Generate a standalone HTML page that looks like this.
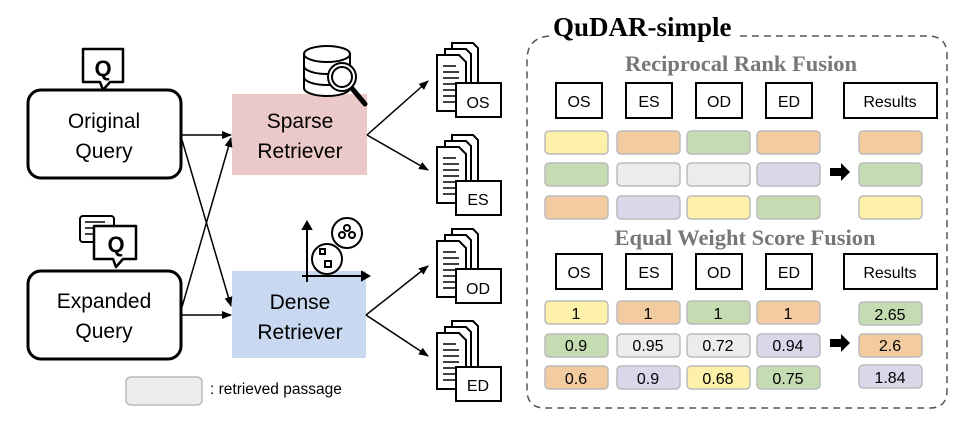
<!DOCTYPE html>
<html><head><meta charset="utf-8"><style>
html,body{margin:0;padding:0;background:#fff;width:958px;height:426px;overflow:hidden}
svg text{font-family:"Liberation Sans",sans-serif}
.s{font-family:"Liberation Serif",serif;font-weight:bold}
</style></head><body>
<svg width="958" height="426" viewBox="0 0 958 426" xmlns="http://www.w3.org/2000/svg">
<defs>
<marker id="a" markerWidth="10" markerHeight="8" refX="9" refY="4" orient="auto" markerUnits="userSpaceOnUse"><path d="M0,0 L10,4 L0,8 Z" fill="#000"/></marker>
<g id="doc">
 <path d="M15,0 H36 L41,5 V50 H15 Z" fill="#fff" stroke="#000" stroke-width="2"/>
 <path d="M8,6 H29 L34,11 V56 H8 Z" fill="#fff" stroke="#000" stroke-width="2"/>
 <path d="M0,12 H22 L29,19 V68 H0 Z" fill="#fff" stroke="#000" stroke-width="2"/>
 <path d="M6,23h13M6,29h16M6,35h16M6,41h16M6,47h16M6,53h16M6,59h16" stroke="#000" stroke-width="1.5"/>
</g>
</defs>
<rect x="28" y="90" width="153" height="88" rx="13" fill="#fff" stroke="#000" stroke-width="3"/>
<text x="104" y="128" font-size="21" text-anchor="middle">Original</text>
<text x="104" y="158" font-size="21" text-anchor="middle">Query</text>
<path d="M83,49 H123 V82 H110 L103,90 L100,82 H83 Z" fill="#fff" stroke="#000" stroke-width="2.5" stroke-linejoin="round"/>
<text x="103" y="76" font-size="22" font-weight="bold" text-anchor="middle">Q</text>
<rect x="28" y="271" width="153" height="88" rx="13" fill="#fff" stroke="#000" stroke-width="3"/>
<text x="104" y="308" font-size="21" text-anchor="middle">Expanded</text>
<text x="104" y="338" font-size="21" text-anchor="middle">Query</text>
<rect x="80" y="216" width="34" height="26" rx="3" fill="#fff" stroke="#000" stroke-width="2"/>
<path d="M85,222h20M85,228h20M85,234h14" stroke="#000" stroke-width="1.5"/>
<path d="M94,226 H136 V259 H123 L116,267 L113,259 H94 Z" fill="#fff" stroke="#000" stroke-width="2.5" stroke-linejoin="round"/>
<text x="116" y="252" font-size="22" font-weight="bold" text-anchor="middle">Q</text>
<rect x="232" y="94" width="135" height="81" fill="#ecc9c9"/>
<text x="300" y="128" font-size="21" text-anchor="middle">Sparse</text>
<text x="300" y="158" font-size="21" text-anchor="middle">Retriever</text>
<rect x="232" y="271" width="134" height="87" fill="#c9d8f1"/>
<text x="300" y="309" font-size="21" text-anchor="middle">Dense</text>
<text x="300" y="339" font-size="21" text-anchor="middle">Retriever</text>
<g fill="#fff" stroke="#000" stroke-width="2">
<path d="M304,54 V88 A23,8 0 0 0 350,88 V54"/>
<ellipse cx="327" cy="54" rx="23" ry="8"/>
<path d="M304,66 A23,8 0 0 0 350,66 M304,77 A23,8 0 0 0 350,77"/>
<path d="M350,86 L365,104" stroke-width="5" stroke-linecap="round"/>
<circle cx="342" cy="77" r="14"/><circle cx="342" cy="77" r="10"/>
</g>
<g fill="#fff" stroke="#000" stroke-width="2">
<path d="M307,224 V282 M302,276 H368" />
<path d="M303,229 L307,222 L311,229 Z M362,272 L369,276 L362,280 Z" fill="#000"/>
<circle cx="347" cy="233" r="15"/><circle cx="347" cy="228" r="3"/><circle cx="342" cy="235" r="3"/><circle cx="352" cy="235" r="3"/>
<circle cx="327" cy="259" r="15"/><rect x="320" y="249" width="5" height="5"/><rect x="325" y="261" width="6" height="6"/>
</g>
<g stroke="#000" stroke-width="1.5" fill="none" marker-end="url(#a)">
<line x1="182" y1="135" x2="231" y2="135"/>
<line x1="182" y1="315" x2="231" y2="315"/>
<line x1="182" y1="140" x2="231" y2="306"/>
<line x1="182" y1="307" x2="231" y2="138"/>
<line x1="367" y1="135" x2="428" y2="81"/>
<line x1="367" y1="135" x2="428" y2="170"/>
<line x1="366" y1="315" x2="428" y2="266"/>
<line x1="366" y1="315" x2="428" y2="356"/>
</g>
<use href="#doc" x="437" y="43"/>
<rect x="456" y="83" width="45" height="34" fill="#fff" stroke="#000" stroke-width="2"/><text x="478" y="108" font-size="16" text-anchor="middle">OS</text>
<use href="#doc" x="437" y="135"/>
<rect x="456" y="181" width="45" height="34" fill="#fff" stroke="#000" stroke-width="2"/><text x="478" y="205" font-size="16" text-anchor="middle">ES</text>
<use href="#doc" x="437" y="229"/>
<rect x="456" y="269" width="45" height="34" fill="#fff" stroke="#000" stroke-width="2"/><text x="478" y="294" font-size="16" text-anchor="middle">OD</text>
<use href="#doc" x="437" y="321"/>
<rect x="456" y="367" width="45" height="34" fill="#fff" stroke="#000" stroke-width="2"/><text x="478" y="391" font-size="16" text-anchor="middle">ED</text>
<rect x="126" y="377" width="76" height="28" rx="5" fill="#ececec" stroke="#bbb" stroke-width="1.5"/>
<text x="210" y="394" font-size="15.5">: retrieved passage</text>
<path d="M549,36 Q527,38 527,60 V390 Q527,408 545,408 H930 Q947,408 947,390 V55 Q947,36 928,36 H737" fill="none" stroke="#555" stroke-width="1.5" stroke-dasharray="7,5"/>
<text x="553" y="36" class="s" font-size="27">QuDAR-simple</text>
<text x="741" y="71" class="s" font-size="22.5" fill="#777" text-anchor="middle">Reciprocal Rank Fusion</text>
<text x="745" y="245" class="s" font-size="22.5" fill="#777" text-anchor="middle">Equal Weight Score Fusion</text>
<g fill="#fff" stroke="#000" stroke-width="2">
<rect x="556" y="83" width="46" height="35"/><rect x="626" y="83" width="46" height="35"/><rect x="696" y="83" width="46" height="35"/><rect x="766" y="83" width="46" height="35"/><rect x="844" y="83" width="93" height="35"/>
<rect x="556" y="254" width="46" height="35"/><rect x="626" y="254" width="46" height="35"/><rect x="696" y="254" width="46" height="35"/><rect x="766" y="254" width="46" height="35"/><rect x="844" y="254" width="93" height="35"/>
</g>
<g font-size="16" text-anchor="middle">
<text x="579" y="107">OS</text><text x="649" y="107">ES</text><text x="719" y="107">OD</text><text x="789" y="107">ED</text><text x="890" y="107">Results</text>
<text x="579" y="278">OS</text><text x="649" y="278">ES</text><text x="719" y="278">OD</text><text x="789" y="278">ED</text><text x="890" y="278">Results</text>
</g>
<g stroke="#bbb" stroke-width="1.5">
<rect x="545" y="131" width="63" height="23" rx="4" fill="#fdf0a8"/><rect x="617" y="131" width="63" height="23" rx="4" fill="#f3cba0"/><rect x="687" y="131" width="63" height="23" rx="4" fill="#c5dcb2"/><rect x="757" y="131" width="63" height="23" rx="4" fill="#f3cba0"/><rect x="859" y="131" width="63" height="23" rx="4" fill="#f3cba0"/>
<rect x="545" y="163" width="63" height="23" rx="4" fill="#c5dcb2"/><rect x="617" y="163" width="63" height="23" rx="4" fill="#ececec"/><rect x="687" y="163" width="63" height="23" rx="4" fill="#ececec"/><rect x="757" y="163" width="63" height="23" rx="4" fill="#dcd6ea"/><rect x="859" y="163" width="63" height="23" rx="4" fill="#c5dcb2"/>
<rect x="545" y="196" width="63" height="23" rx="4" fill="#f3cba0"/><rect x="617" y="196" width="63" height="23" rx="4" fill="#dcd6ea"/><rect x="687" y="196" width="63" height="23" rx="4" fill="#fdf0a8"/><rect x="757" y="196" width="63" height="23" rx="4" fill="#c5dcb2"/><rect x="859" y="196" width="63" height="23" rx="4" fill="#fdf0a8"/>
<rect x="545" y="301" width="63" height="23" rx="4" fill="#fdf0a8"/><rect x="617" y="301" width="63" height="23" rx="4" fill="#f3cba0"/><rect x="687" y="301" width="63" height="23" rx="4" fill="#c5dcb2"/><rect x="757" y="301" width="63" height="23" rx="4" fill="#f3cba0"/><rect x="859" y="302" width="63" height="23" rx="4" fill="#c5dcb2"/>
<rect x="545" y="334" width="63" height="23" rx="4" fill="#c5dcb2"/><rect x="617" y="334" width="63" height="23" rx="4" fill="#ececec"/><rect x="687" y="334" width="63" height="23" rx="4" fill="#ececec"/><rect x="757" y="334" width="63" height="23" rx="4" fill="#dcd6ea"/><rect x="859" y="334" width="63" height="23" rx="4" fill="#f3cba0"/>
<rect x="545" y="366" width="63" height="23" rx="4" fill="#f3cba0"/><rect x="617" y="366" width="63" height="23" rx="4" fill="#dcd6ea"/><rect x="687" y="366" width="63" height="23" rx="4" fill="#fdf0a8"/><rect x="757" y="366" width="63" height="23" rx="4" fill="#c5dcb2"/><rect x="859" y="365" width="63" height="23" rx="4" fill="#dcd6ea"/>
</g>
<g font-size="16" text-anchor="middle">
<text x="576" y="319">1</text><text x="648" y="319">1</text><text x="718" y="319">1</text><text x="788" y="319">1</text><text x="890" y="320">2.65</text>
<text x="576" y="351">0.9</text><text x="648" y="351">0.95</text><text x="718" y="351">0.72</text><text x="788" y="351">0.94</text><text x="890" y="351">2.6</text>
<text x="576" y="384">0.6</text><text x="648" y="384">0.9</text><text x="718" y="384">0.68</text><text x="788" y="384">0.75</text><text x="890" y="383">1.84</text>
</g>
<path d="M830,168 H841 V163 L850,172 L841,181 V176 H830 Z" fill="#000"/>
<path d="M830,339 H841 V334 L850,343 L841,352 V347 H830 Z" fill="#000"/>
</svg>
</body></html>
